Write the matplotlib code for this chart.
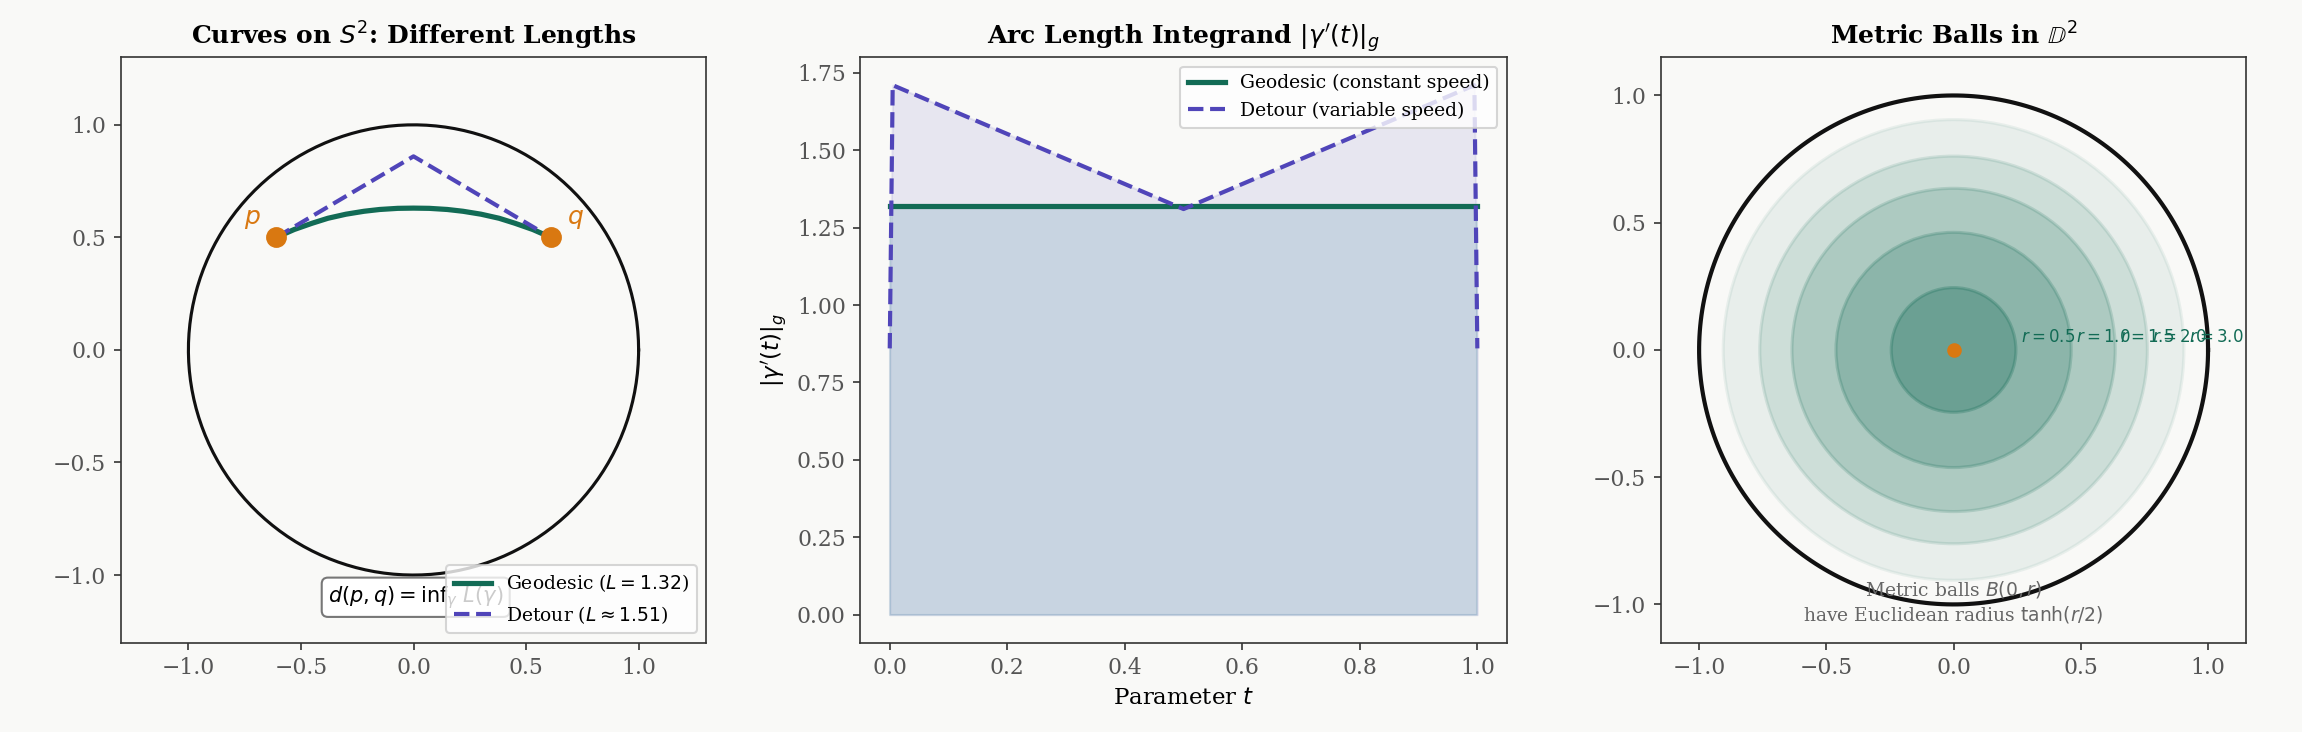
import numpy as np
import matplotlib.pyplot as plt

plt.rcParams['font.family'] = 'DejaVu Serif'
plt.rcParams['mathtext.fontset'] = 'dejavusans'

BG = "#f9f9f7"
TEAL = "#126b55"
PURPLE = "#5045b9"
ORANGE = "#d97811"

# left panel data
p_pt = (-0.61, 0.50)
q_pt = (0.61, 0.50)
geo_x = [-0.61, -0.53, -0.45, -0.38, -0.30, -0.22, -0.15, -0.07, 0.0,
         0.07, 0.15, 0.22, 0.30, 0.38, 0.45, 0.53, 0.61]
geo_y = [0.50, 0.535, 0.563, 0.585, 0.603, 0.616, 0.624, 0.629, 0.630,
         0.629, 0.624, 0.616, 0.603, 0.585, 0.563, 0.535, 0.50]
det_x = [-0.61, 0.0, 0.61]
det_y = [0.50, 0.86, 0.50]
L_geo = 1.32
L_det = 1.51

# middle panel data
t_vals = [0.0, 0.005, 0.5, 0.995, 1.0]
speed_det = [0.86, 1.71, 1.31, 1.71, 0.86]
speed_geo = 1.32

# right panel data
r_vals = [0.5, 1.0, 1.5, 2.0, 3.0]
ball_alpha = [0.45, 0.35, 0.28, 0.2, 0.12]

fig, axes = plt.subplots(1, 3, figsize=(15.35, 4.88), dpi=150)
fig.patch.set_facecolor(BG)
for ax in axes:
    ax.set_facecolor(BG)
    ax.tick_params(colors="#333333", labelcolor="#555555", labelsize=10.5)
    for s in ax.spines.values():
        s.set_color("#333333")

# --- left
ax = axes[0]
th = np.linspace(0, 2*np.pi, 300)
ax.plot(np.cos(th), np.sin(th), color="#111111", lw=1.5)
ax.plot(geo_x, geo_y, color=TEAL, lw=2.5, label=f"Geodesic ($L={L_geo:.2f}$)")
ax.plot(det_x, det_y, color=PURPLE, lw=2, ls="--", label=f"Detour ($L\\approx{L_det:.2f}$)")
ax.plot(*zip(p_pt, q_pt), "o", color=ORANGE, ms=9, zorder=5)
ax.text(p_pt[0]-0.07, p_pt[1]+0.06, "$p$", color=ORANGE, fontsize=12, ha="right")
ax.text(q_pt[0]+0.07, q_pt[1]+0.06, "$q$", color=ORANGE, fontsize=12, ha="left")
ax.text(-0.38, -1.12, r"$d(p,q) = \inf_\gamma\, L(\gamma)$", fontsize=10,
        bbox=dict(boxstyle="round,pad=0.3", fc="white", ec="#777777"))
ax.legend(loc="lower right", fontsize=9, framealpha=0.8)
ax.set_xlim(-1.3, 1.3)
ax.set_ylim(-1.3, 1.3)
ax.set_aspect("equal")
ax.set_title("Curves on $S^2$: Different Lengths", fontweight="bold", fontsize=12)

# --- middle
ax = axes[1]
ax.fill_between(t_vals, 0, speed_det, color=PURPLE, alpha=0.1)
ax.fill_between([0, 1], 0, speed_geo, color="#6f9fb5", alpha=0.25, edgecolor="#6f9fb5")
ax.plot([0, 1], [speed_geo]*2, color=TEAL, lw=2.5, label="Geodesic (constant speed)")
ax.plot(t_vals, speed_det, color=PURPLE, lw=2, ls="--", label="Detour (variable speed)")
ax.legend(loc="upper right", fontsize=9, framealpha=0.8)
ax.set_xlabel("Parameter $t$", fontsize=11)
ax.set_ylabel(r"$|\gamma'(t)|_g$", fontsize=11)
ax.set_xlim(-0.05, 1.05)
ax.set_ylim(-0.09, 1.8)
ax.set_title(r"Arc Length Integrand $|\gamma'(t)|_g$", fontweight="bold", fontsize=12)

# --- right
ax = axes[2]
for r, a in sorted(zip(r_vals, ball_alpha), reverse=True):
    R = np.tanh(r/2)
    ax.add_patch(plt.Circle((0, 0), R, facecolor=TEAL, alpha=a*0.6, edgecolor=TEAL, lw=1.5))
    ax.text(R+0.02, 0.05, f"$r={r}$", color=TEAL, fontsize=8, va="center")
ax.plot(np.cos(th), np.sin(th), color="#111111", lw=2)
ax.plot(0, 0, "o", color=ORANGE, ms=6)
ax.text(0, -0.99, "Metric balls $B(0,r)$\nhave Euclidean radius $\\tanh(r/2)$",
        ha="center", va="center", fontsize=9, color="#666666")
ax.set_xlim(-1.15, 1.15)
ax.set_ylim(-1.15, 1.15)
ax.set_aspect("equal")
ax.set_title(r"Metric Balls in $\mathbb{D}^2$", fontweight="bold", fontsize=12)

plt.tight_layout()
plt.savefig("out.png", dpi=150, facecolor=BG)
